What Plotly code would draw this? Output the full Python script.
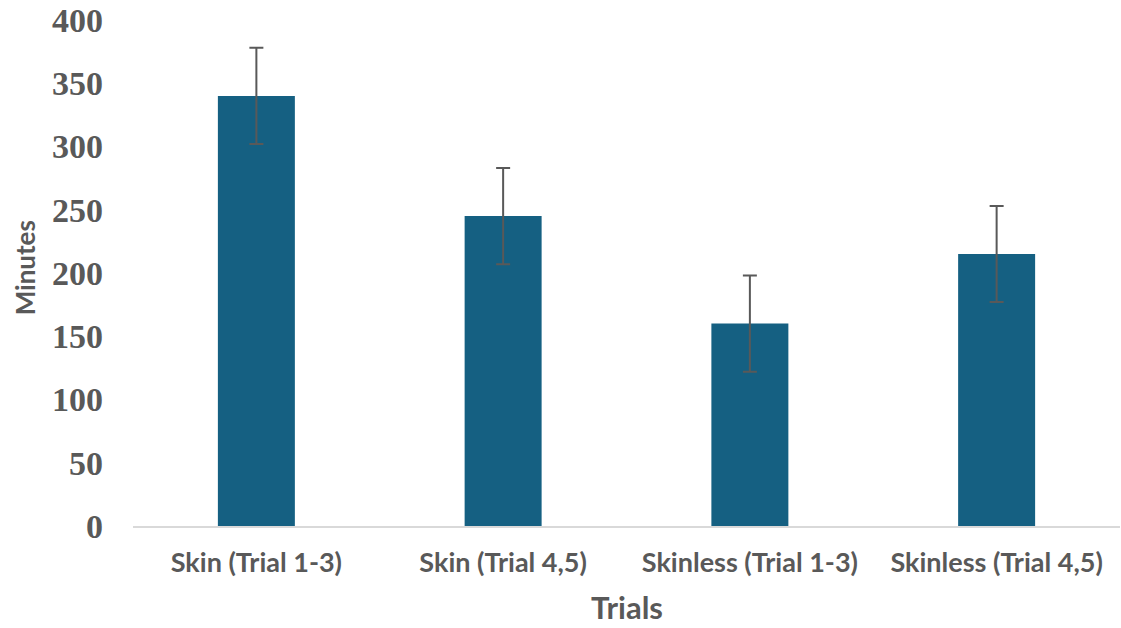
import plotly.graph_objects as go

categories = ["Skin (Trial 1-3)", "Skin (Trial 4,5)", "Skinless (Trial 1-3)", "Skinless (Trial 4,5)"]
minutes = [340, 245, 160, 215]
errors = [38, 38, 38, 38]
y_ticks = [0, 50, 100, 150, 200, 250, 300, 350, 400]

grey = "#595959"

fig = go.Figure()
fig.add_trace(go.Bar(
    x=categories, y=minutes,
    marker=dict(color="#156082", line=dict(width=0)),
    error_y=dict(type="data", array=errors, visible=True, color=grey, thickness=2, width=7),
))

fig.update_layout(
    width=1121, height=628,
    margin=dict(l=133, r=1, t=20, b=102),
    plot_bgcolor="white", paper_bgcolor="white",
    bargap=0.688,
    showlegend=False,
    xaxis=dict(
        showline=True, linecolor="#d9d9d9", linewidth=2,
        showgrid=False, ticks="",
        tickfont=dict(family="Lato", size=27, color=grey, weight="bold"),
        ticklabelstandoff=12,
    ),
    yaxis=dict(
        range=[0, 400], tickvals=y_ticks, showgrid=False, zeroline=False,
        showline=False, ticks="",
        tickfont=dict(family="Liberation Serif", size=34, color=grey, weight="bold"),
        ticklabelstandoff=29,
    ),
    annotations=[
        dict(text="<b>Trials</b>", x=0.5, y=-0.16, xref="paper", yref="paper",
             xanchor="center", yanchor="middle", showarrow=False,
             font=dict(family="Lato", size=31, color=grey)),
        dict(text="<b>Minutes</b>", x=-0.109, y=0.51, xref="paper", yref="paper",
             xanchor="center", yanchor="middle", showarrow=False, textangle=-90,
             font=dict(family="Lato", size=26, color=grey)),
    ],
)

fig.write_html("out.html", config={"displayModeBar": False},
               post_script="document.body.style.margin='0';")
